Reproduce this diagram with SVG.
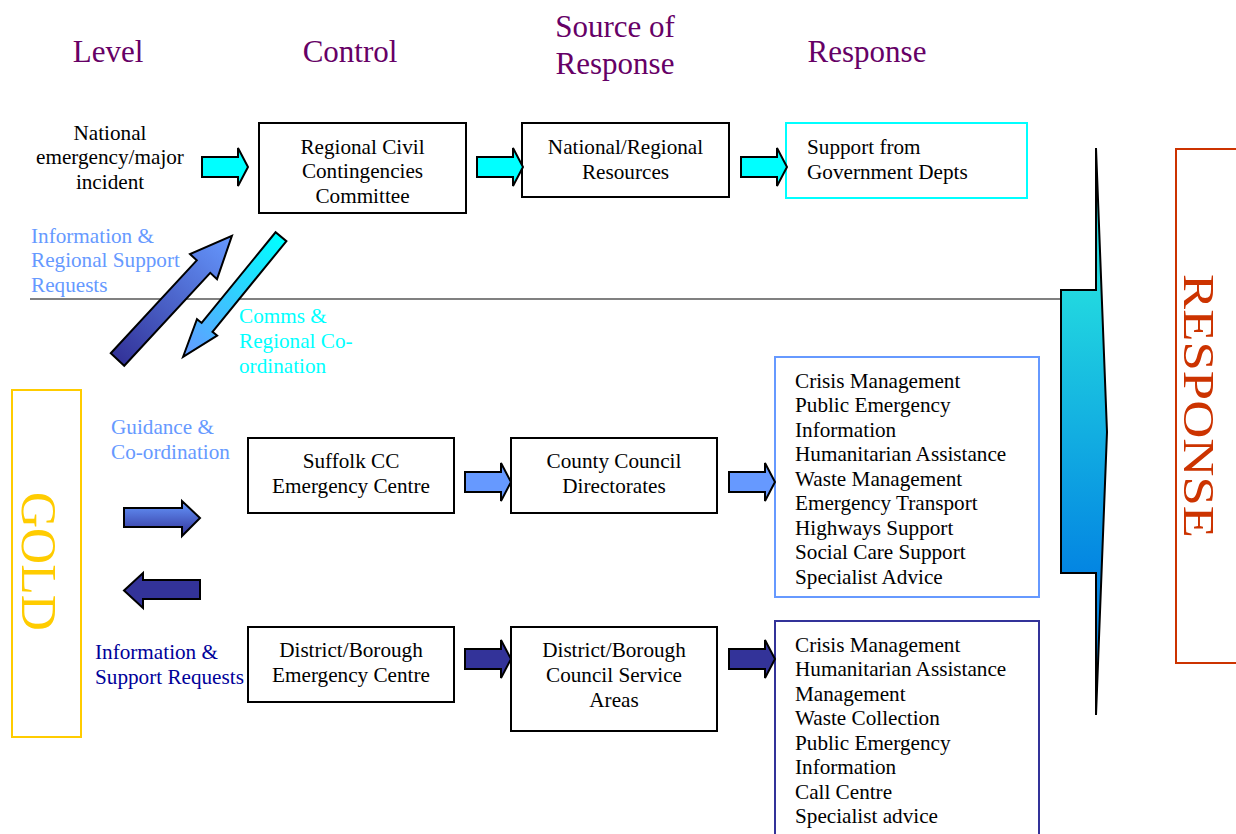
<svg xmlns="http://www.w3.org/2000/svg" width="1236" height="834" viewBox="0 0 1236 834">
<defs>
<style>
text{font-family:"Liberation Serif","Times New Roman",serif;}
.hd{font-size:31px;fill:#660066;text-anchor:middle;}
.t{font-size:21.2px;fill:#000;}
.c{text-anchor:middle;}
.box{fill:#fff;stroke:#000;stroke-width:2;}
.ar{stroke:#000;stroke-width:2;stroke-linejoin:miter;}
.cy{fill:#00ffff;}
.lb{fill:#6699ff;}
.db{fill:#333399;}
</style>
<linearGradient id="gUp" gradientUnits="userSpaceOnUse" x1="0" y1="0" x2="168" y2="0">
<stop offset="0" stop-color="#333399"/><stop offset="1" stop-color="#6699ff"/>
</linearGradient>
<linearGradient id="gDown" gradientUnits="userSpaceOnUse" x1="0" y1="0" x2="155" y2="0">
<stop offset="0" stop-color="#00ffff"/><stop offset="1" stop-color="#6699ff"/>
</linearGradient>
<linearGradient id="gGold" x1="0" y1="0" x2="0" y2="1">
<stop offset="0" stop-color="#6699ff"/><stop offset="1" stop-color="#333399"/>
</linearGradient>
<linearGradient id="gResp" gradientUnits="userSpaceOnUse" x1="0" y1="290" x2="0" y2="573">
<stop offset="0" stop-color="#22d8e0"/><stop offset="1" stop-color="#0385e2"/>
</linearGradient>
<path id="harrow" d="M0,-10 H36 V-19 L46,0 L36,19 V10 H0 Z"/>
</defs>

<g id="headers">
<text class="hd" x="108" y="62">Level</text>
<text class="hd" x="350" y="62">Control</text>
<text class="hd" x="615" y="37">Source of</text>
<text class="hd" x="615" y="74">Response</text>
<text class="hd" x="867" y="62">Response</text>
</g>

<line id="divider" x1="30" y1="299" x2="1062" y2="299" stroke="#808080" stroke-width="2"/>

<g id="national-incident">
<text class="t c" x="110" y="140">National</text>
<text class="t c" x="110" y="164">emergency/major</text>
<text class="t c" x="110" y="189">incident</text>
</g>

<g id="rccc">
<rect class="box" x="259" y="123" width="207" height="90"/>
<text class="t c" x="362.5" y="154">Regional Civil</text>
<text class="t c" x="362.5" y="178">Contingencies</text>
<text class="t c" x="362.5" y="203">Committee</text>
</g>

<g id="national-resources">
<rect class="box" x="522" y="123" width="207" height="74"/>
<text class="t c" x="625.5" y="154">National/Regional</text>
<text class="t c" x="625.5" y="179">Resources</text>
</g>

<g id="gov-depts">
<rect x="786" y="123" width="241" height="75" fill="#fff" stroke="#00ffff" stroke-width="2"/>
<text class="t" x="807" y="154">Support from</text>
<text class="t" x="807" y="179">Government Depts</text>
</g>

<g id="suffolk-cc">
<rect class="box" x="248" y="438" width="206" height="75"/>
<text class="t c" x="351" y="468">Suffolk CC</text>
<text class="t c" x="351" y="493">Emergency Centre</text>
</g>

<g id="county-directorates">
<rect class="box" x="511" y="438" width="206" height="75"/>
<text class="t c" x="614" y="468">County Council</text>
<text class="t c" x="614" y="493">Directorates</text>
</g>

<g id="county-response">
<rect x="775" y="357" width="264" height="240" fill="#fff" stroke="#6699ff" stroke-width="2"/>
<text class="t" x="795" y="388">Crisis Management</text>
<text class="t" x="795" y="412">Public Emergency</text>
<text class="t" x="795" y="437">Information</text>
<text class="t" x="795" y="461">Humanitarian Assistance</text>
<text class="t" x="795" y="486">Waste Management</text>
<text class="t" x="795" y="510">Emergency Transport</text>
<text class="t" x="795" y="535">Highways Support</text>
<text class="t" x="795" y="559">Social Care Support</text>
<text class="t" x="795" y="584">Specialist Advice</text>
</g>

<g id="district-ec">
<rect class="box" x="248" y="627" width="206" height="75"/>
<text class="t c" x="351" y="657">District/Borough</text>
<text class="t c" x="351" y="682">Emergency Centre</text>
</g>

<g id="district-services">
<rect class="box" x="511" y="627" width="206" height="104"/>
<text class="t c" x="614" y="657">District/Borough</text>
<text class="t c" x="614" y="682">Council Service</text>
<text class="t c" x="614" y="707">Areas</text>
</g>

<g id="district-response">
<rect x="775" y="621" width="264" height="240" fill="#fff" stroke="#333399" stroke-width="2"/>
<text class="t" x="795" y="652">Crisis Management</text>
<text class="t" x="795" y="676">Humanitarian Assistance</text>
<text class="t" x="795" y="701">Management</text>
<text class="t" x="795" y="725">Waste Collection</text>
<text class="t" x="795" y="750">Public Emergency</text>
<text class="t" x="795" y="774">Information</text>
<text class="t" x="795" y="799">Call Centre</text>
<text class="t" x="795" y="823">Specialist advice</text>
</g>

<g id="gold">
<rect x="12" y="390" width="69" height="347" fill="none" stroke="#ffcc00" stroke-width="2"/>
<text transform="translate(22,492) rotate(90)" x="0" y="0" style="font-size:50px;fill:#ffcc00;">GOLD</text>
</g>

<g id="response-band">
<rect x="1176" y="149" width="80" height="514" fill="none" stroke="#cc3300" stroke-width="2"/>
<text transform="translate(1184,274) rotate(90)" x="0" y="0" style="font-size:44px;fill:#cc3300;" textLength="264" lengthAdjust="spacingAndGlyphs">RESPONSE</text>
</g>

<g id="response-arrow">
<path d="M1096,148 L1107,432 L1096,715 V573 H1061 V290 H1096 Z" fill="url(#gResp)" stroke="#000" stroke-width="2" stroke-linejoin="miter"/>
</g>

<g id="labels">
<text class="t" x="31" y="243" style="fill:#6699ff">Information &amp;</text>
<text class="t" x="31" y="267" style="fill:#6699ff">Regional Support</text>
<text class="t" x="31" y="292" style="fill:#6699ff">Requests</text>
<text class="t" x="239" y="323" style="fill:#00ffff">Comms &amp;</text>
<text class="t" x="239" y="348" style="fill:#00ffff">Regional Co-</text>
<text class="t" x="239" y="373" style="fill:#00ffff">ordination</text>
<text class="t" x="111" y="434" style="fill:#6699ff">Guidance &amp;</text>
<text class="t" x="111" y="459" style="fill:#6699ff">Co-ordination</text>
<text class="t" x="95" y="659" style="fill:#000099">Information &amp;</text>
<text class="t" x="95" y="684" style="fill:#000099">Support Requests</text>
</g>

<g id="connectors">
<use href="#harrow" class="ar cy" transform="translate(202,167)"/>
<use href="#harrow" class="ar cy" transform="translate(477,167)"/>
<use href="#harrow" class="ar cy" transform="translate(741,167)"/>
<use href="#harrow" class="ar lb" transform="translate(465,482)"/>
<use href="#harrow" class="ar lb" transform="translate(729,482)"/>
<use href="#harrow" class="ar db" transform="translate(465,659)"/>
<use href="#harrow" class="ar db" transform="translate(729,659)"/>
<path class="ar" fill="url(#gGold)" d="M124,508 H182 V501 L200,518 L182,536 V527 H124 Z"/>
<path class="ar db" d="M200,580 H143 V573 L124,590.5 L143,608 V599 H200 Z"/>
<path class="ar" fill="url(#gUp)" transform="translate(117.5,359.5) rotate(-47.2)" d="M0,-9.2 H126.6 V-18.4 L168.4,0 L126.6,18.4 V9.2 H0 Z"/>
<path class="ar" fill="url(#gDown)" transform="translate(281,236.7) rotate(129.2)" d="M0,-7 H117 V-13 L154.9,0 L117,13 V7 H0 Z"/>
</g>
</svg>
